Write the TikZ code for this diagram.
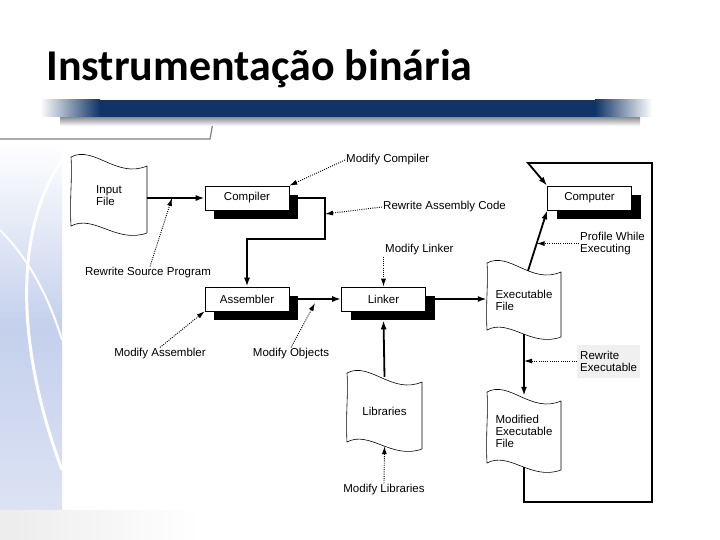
\documentclass[tikz,border=0pt]{standalone}
\usepackage{fontspec}
\setmainfont{Liberation Sans}
\newfontfamily\titlefont{Carlito}
\usetikzlibrary{arrows.meta,shadows}

\definecolor{barblue}{RGB}{16,52,102}
\definecolor{swirl}{RGB}{196,208,236}

\tikzset{
  lbl/.style={font=\fontsize{11.5}{12}\selectfont, inner sep=1pt, align=left},
  box/.style={draw, line width=0.6pt, fill=white, minimum width=84pt, minimum height=24pt,
    inner sep=0pt, font=\fontsize{11.5}{12}\selectfont,
    drop shadow={shadow xshift=9pt, shadow yshift=-9pt, fill=black, opacity=1}},
  docline/.style={draw, line width=0.6pt, fill=white},
  flow/.style={line width=1.8pt, -{Latex[length=9pt,width=6pt]}},
  hint/.style={line width=0.9pt, dash pattern=on 1pt off 1.2pt, -{Latex[length=8pt,width=5pt]}},
}

% wavy file shape: name, x, y, width, height, text
\newcommand{\docshape}[6]{%
  \draw[docline] (#2,#3) .. controls ({#2+0.3*#4},{#3-12}) and ({#2+0.6*#4},{#3+22}) .. ({#2+#4},{#3+9})
    -- ({#2+#4},{#3+#5+7}) .. controls ({#2+0.6*#4},{#3+#5+18}) and ({#2+0.3*#4},{#3+#5-12}) .. (#2,{#3+#5})
    .. controls ({#2-1.5},{#3+0.6*#5}) and ({#2+1.5},{#3+0.3*#5}) .. cycle;
  \node[lbl, minimum width=#4pt, minimum height=#5pt] (#1) at ({#2+#4/2},{#3+#5/2+4}) {#6};
}

\begin{document}
\begin{tikzpicture}[x=1pt, y=-1pt]
  \useasboundingbox (0,0) rectangle (720,540);
  \fill[white] (0,0) rectangle (720,540);

  % fondo de la diapositiva
  \shade[top color=white, bottom color=swirl!60, middle color=swirl] (0,142) rectangle (62,510);
  \draw[white, line width=3pt] (62,160) .. controls (20,220) and (10,330) .. (62,470);
  \draw[white, line width=2pt] (0,230) .. controls (30,260) and (50,300) .. (62,340);
  \shade[left color=gray!15, right color=white] (0,510) rectangle (200,540);
  \draw[gray, line width=1.2pt] (0,139) -- (210,139) -- (214,117);
  \shade[top color=black!45, bottom color=white] (60,117) rectangle (640,126);
  \shade[left color=white, right color=barblue] (40,100) rectangle (100,117);
  \fill[barblue] (100,100) rectangle (595,117);
  \shade[left color=barblue, right color=white] (595,100) rectangle (652,117);

  % titulo
  \node[anchor=base west, font=\titlefont\bfseries\fontsize{44}{50}\selectfont] (title) at (43,81) {Instrumentação binária};

  % archivos
  \docshape{infile}{71}{157}{76}{69}{Input\\File}
  \docshape{libs}{347}{373}{75}{69}{Libraries}
  \docshape{exec}{487}{263}{74}{67}{Executable\\File}
  \docshape{modexec}{487}{392}{74}{71}{Modified\\Executable\\File}

  % etapas
  \node[box] (compiler) at (247,198) {Compiler};
  \node[box] (assembler) at (247,299) {Assembler};
  \node[box] (linker) at (383.5,299) {Linker};
  \node[box] (computer) at (589.5,198) {Computer};

  % flujo principal
  \coordinate (cbend) at (325,239);
  \coordinate (lpbot) at (652,502);
  \coordinate (lptop) at (528,163);
  \draw[flow] (infile.east |- compiler.west) -- (compiler.west);
  \draw[flow] ([xshift=9pt]compiler.east) -| (cbend) -| (assembler.north);
  \draw[flow] ([xshift=9pt]assembler.east) -- (linker.west);
  \draw[flow] ([xshift=9pt]linker.east) -- (linker -| exec.west);
  \draw[flow] (libs.north) -- ([yshift=-9pt]linker.south);
  \draw[flow] (exec.south) -- (modexec.north);
  \draw[flow] ([xshift=4pt,yshift=-4pt]exec.north) -- (computer.south west) coordinate[pos=0.45] (pw);
  \draw[flow] (modexec.south) |- (lpbot) |- (lptop) -- (computer.north west);

  % puntos de instrumentacion
  \node[lbl, anchor=west] (modcomp) at (345,160) {Modify Compiler};
  \node[lbl, anchor=west] (rwasm) at (382,207) {Rewrite Assembly Code};
  \node[lbl] (rwsrc) at (148,273) {Rewrite Source Program};
  \node[lbl, anchor=west] (modlink) at (384,250) {Modify Linker};
  \node[lbl] (modasm) at (160,354) {Modify Assembler};
  \node[lbl] (modobj) at (291,354) {Modify Objects};
  \node[lbl] (modlib) at (384,490) {Modify Libraries};
  \node[lbl, anchor=west] (prof) at (579,244) {Profile While\\Executing};
  \node[lbl, anchor=west, fill=gray!12, inner sep=3pt, minimum height=33pt] (rwexe) at (577,361) {Rewrite\\Executable};

  \coordinate (asmin) at (325,214);
  \coordinate (srcin) at (172,198);
  \coordinate (objin) at (315,303);
  \draw[hint] (modcomp.west) -- (compiler.north east);
  \draw[hint] (rwasm.west) -- (asmin);
  \draw[hint] ([xshift=2pt]rwsrc.north) -- (srcin);
  \draw[hint] (linker.north |- modlink.south) -- (linker.north);
  \draw[hint] (modasm.north) -- (assembler.south west);
  \draw[hint] (modobj.north) -- (objin);
  \draw[hint] (modlib.north) -- (libs.south);
  \draw[hint] (pw -| prof.west) -- (pw);
  \draw[hint] (rwexe.west) -- (rwexe.west -| exec.south);
\end{tikzpicture}
\end{document}
